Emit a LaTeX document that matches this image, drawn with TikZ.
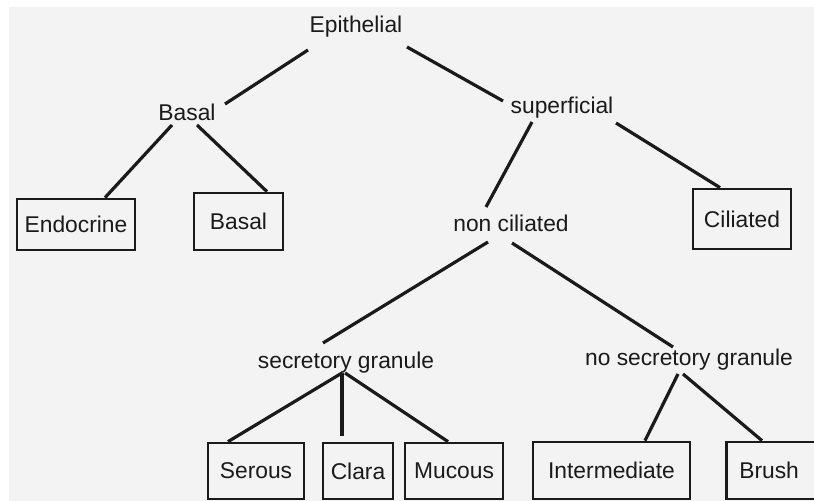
\documentclass[tikz,border=0pt]{standalone}
\usepackage{fontspec}
\setmainfont{Liberation Sans}
\usetikzlibrary{calc}
\definecolor{bg}{HTML}{F3F3F3}
\definecolor{ink}{HTML}{1A1A1A}
\tikzset{
  lbl/.style={inner sep=0pt, font=\fontsize{11.4}{13}\selectfont, text=ink},
  cell/.style={draw=ink, line width=1.35pt, inner sep=0pt, font=\fontsize{11.4}{13}\selectfont, text=ink},
  link/.style={draw=ink, line width=1.6pt}
}
\begin{document}
\begin{tikzpicture}[x=0.5pt,y=-0.5pt]
\useasboundingbox (0,0) rectangle (814,501);
\clip (0,0) rectangle (814,501);
\fill[white] (0,0) rectangle (814,501);
\fill[bg] (9,7) rectangle (814,501);
% text nodes
\node[lbl] (epi) at (356,27) {Epithelial};
\node[lbl] (basT) at (187,112) {Basal};
\node[lbl] (sup) at (562,108) {superficial};
\node[lbl] (nonc) at (511,223) {non ciliated};
\node[lbl] (secg) at (346,363) {secretory granule};
\node[lbl] (nosecg) at (689,360) {no secretory granule};
% boxes
\node[cell, minimum width=59pt, minimum height=25.5pt] (endo) at (76,224.5) {Endocrine};
\node[cell, minimum width=44.5pt, minimum height=28.5pt] (basB) at (238.5,221.5) {Basal};
\node[cell, minimum width=49pt, minimum height=30pt] (cil) at (742,219) {Ciliated};
\node[cell, minimum width=48pt, minimum height=28pt] (ser) at (256,471) {Serous};
\node[cell, minimum width=35pt, minimum height=28pt] (cla) at (358,471) {Clara};
\node[cell, minimum width=49pt, minimum height=28pt] (muc) at (454,471) {Mucous};
\node[cell, minimum width=78.5pt, minimum height=28.5pt] (inter) at (611.5,470.5) {Intermediate};
\node[cell, anchor=west, minimum height=28.5pt, text width=60pt, align=left, inner xsep=6.5pt] (bru) at (725,470.5) {Brush};
% connectors
\draw[link] ($(epi)+(-48,23)$) -- ($(basT)+(38,-8)$);
\draw[link] ($(epi)+(51,20)$) -- ($(sup)+(-59,-7)$);
\draw[link] ($(basT)+(-15,13)$) -- ($(endo.north)+(29,0)$);
\draw[link] ($(basT)+(10,13)$) -- ($(basB.north)+(28.5,0)$);
\draw[link] ($(sup)+(-30,14)$) -- ($(nonc)+(-25,-16)$);
\draw[link] ($(sup)+(54,15)$) -- ($(cil.north)+(-22,0)$);
\draw[link] ($(nonc)+(-23,19)$) -- ($(secg)+(-23,-20)$);
\draw[link] ($(nonc)+(1,20)$) -- ($(nosecg)+(-16,-13)$);
\draw[link] ($(secg)+(-4,10)$) -- ($(ser.north)+(-28,0)$);
\draw[link] ($(secg)+(-4,10)$) -- ($(cla.north)+(-16,-6)$);
\draw[link] ($(secg)+(-1,10)$) -- ($(muc.north)+(-6,0)$);
\draw[link] ($(nosecg)+(-11,14)$) -- ($(inter.north)+(33.5,0)$);
\draw[link] ($(nosecg)+(-6,14)$) -- ($(bru.north west)+(37,0)$);
\end{tikzpicture}
\end{document}
